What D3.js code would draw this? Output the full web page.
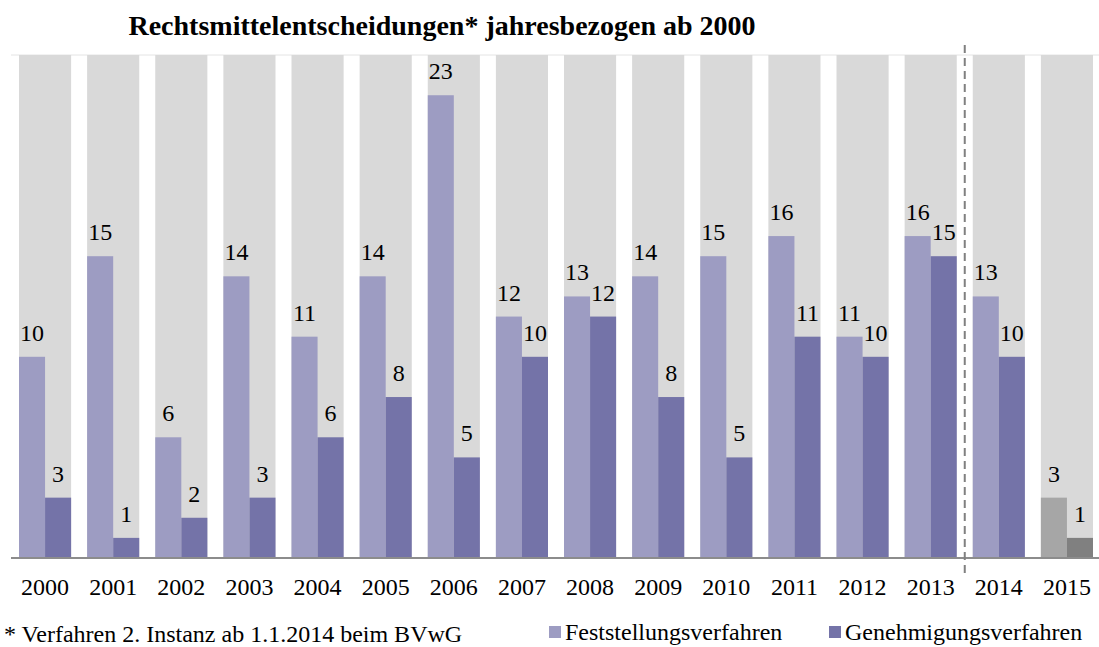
<!DOCTYPE html>
<html>
<head>
<meta charset="utf-8">
<script src="https://cdn.jsdelivr.net/npm/d3@7"></script>
<style>
  body { margin: 0; background: #fff; }
  svg text { font-family: "Liberation Serif", "Times New Roman", serif; fill: #000; }
</style>
</head>
<body>
<div id="chart"></div>
<script>
// data
var years = ["2000", "2001", "2002", "2003", "2004", "2005", "2006", "2007",
  "2008", "2009", "2010", "2011", "2012", "2013", "2014", "2015"]
var feststellung = [10, 15, 6, 14, 11, 14, 23, 12, 13, 14, 15, 16, 11, 16, 13, 3]
var genehmigung = [3, 1, 2, 3, 6, 8, 5, 10, 12, 8, 5, 11, 10, 15, 10, 1]
var seriesNames = ["Feststellungsverfahren", "Genehmigungsverfahren"]
var yMax = 25

var width = 1099, height = 647
var plotTop = 55, baseline = 558

var svg = d3.select("#chart").append("svg")
  .attr("width", width)
  .attr("height", height)

var datapoints = years.map(function(y, i) {
  return { year: y, f: feststellung[i], g: genehmigung[i] }
})

var xPositionScale = d3.scaleBand()
  .domain(years)
  .range([11, 1101])
  .paddingInner(0.235)
  .paddingOuter(0.1175)

var subScale = d3.scaleBand()
  .domain(["f", "g"])
  .range([0, xPositionScale.bandwidth()])

var yPositionScale = d3.scaleLinear()
  .domain([0, yMax])
  .range([baseline, plotTop])

var colors = { f: "#9d9cc2", g: "#7473a8" }
var colors2015 = { f: "#a6a6a6", g: "#808080" }

// title
svg.append("text")
  .attr("x", 442)
  .attr("y", 35)
  .attr("text-anchor", "middle")
  .attr("font-size", 28)
  .attr("font-weight", "bold")
  .text("Rechtsmittelentscheidungen* jahresbezogen ab 2000")

// top line
svg.append("line")
  .attr("x1", 11).attr("x2", 1099)
  .attr("y1", plotTop).attr("y2", plotTop)
  .attr("stroke", "#e4e4e4")
  .attr("stroke-width", 1)

// grey background columns
svg.selectAll(".bg")
  .data(datapoints)
  .enter().append("rect")
  .attr("class", "bg")
  .attr("x", function(d) { return xPositionScale(d.year) })
  .attr("y", yPositionScale(yMax))
  .attr("width", xPositionScale.bandwidth())
  .attr("height", yPositionScale(0) - yPositionScale(yMax))
  .attr("fill", "#d9d9d9")

var groups = svg.selectAll(".year")
  .data(datapoints)
  .enter().append("g")
  .attr("class", "year")
  .attr("transform", function(d) { return "translate(" + xPositionScale(d.year) + ",0)" })

;["f", "g"].forEach(function(key) {
  groups.append("rect")
    .attr("x", subScale(key))
    .attr("y", function(d) { return yPositionScale(d[key]) })
    .attr("width", subScale.bandwidth())
    .attr("height", function(d) { return yPositionScale(0) - yPositionScale(d[key]) })
    .attr("fill", function(d) { return d.year === "2015" ? colors2015[key] : colors[key] })

  groups.append("text")
    .attr("x", subScale(key) + subScale.bandwidth() / 2)
    .attr("y", function(d) { return yPositionScale(d[key]) - 16 })
    .attr("text-anchor", "middle")
    .attr("font-size", 24)
    .text(function(d) { return d[key] })
})

// x axis
var xAxis = d3.axisBottom(xPositionScale).tickSize(0).tickPadding(20)
var xg = svg.append("g")
  .attr("class", "axis x-axis")
  .attr("transform", "translate(0," + baseline + ")")
  .call(xAxis)
xg.select(".domain").remove()
xg.selectAll("text")
  .attr("font-size", 24)
  .attr("font-family", "Liberation Serif, serif")
  .attr("fill", "#000")

svg.append("line")
  .attr("x1", 11).attr("x2", 1099)
  .attr("y1", baseline).attr("y2", baseline)
  .attr("stroke", "#8c8c8c")
  .attr("stroke-width", 2)

// dashed divider between 2013 and 2014
var divX = (xPositionScale("2013") + xPositionScale.bandwidth() + xPositionScale("2014")) / 2
svg.append("line")
  .attr("x1", divX).attr("x2", divX)
  .attr("y1", 45).attr("y2", 578)
  .attr("stroke", "#808080")
  .attr("stroke-width", 2)
  .attr("stroke-dasharray", "8,5")

// footnote
svg.append("text")
  .attr("x", 4)
  .attr("y", 642)
  .attr("font-size", 24)
  .text("* Verfahren 2. Instanz ab 1.1.2014 beim BVwG")

// legend
var legendX = [549, 829]
seriesNames.forEach(function(name, i) {
  var key = i === 0 ? "f" : "g"
  svg.append("rect")
    .attr("x", legendX[i]).attr("y", 626)
    .attr("width", 12).attr("height", 12)
    .attr("fill", colors[key])
  svg.append("text")
    .attr("x", legendX[i] + 16)
    .attr("y", 640)
    .attr("font-size", 24)
    .text(name)
})
</script>
</body>
</html>
